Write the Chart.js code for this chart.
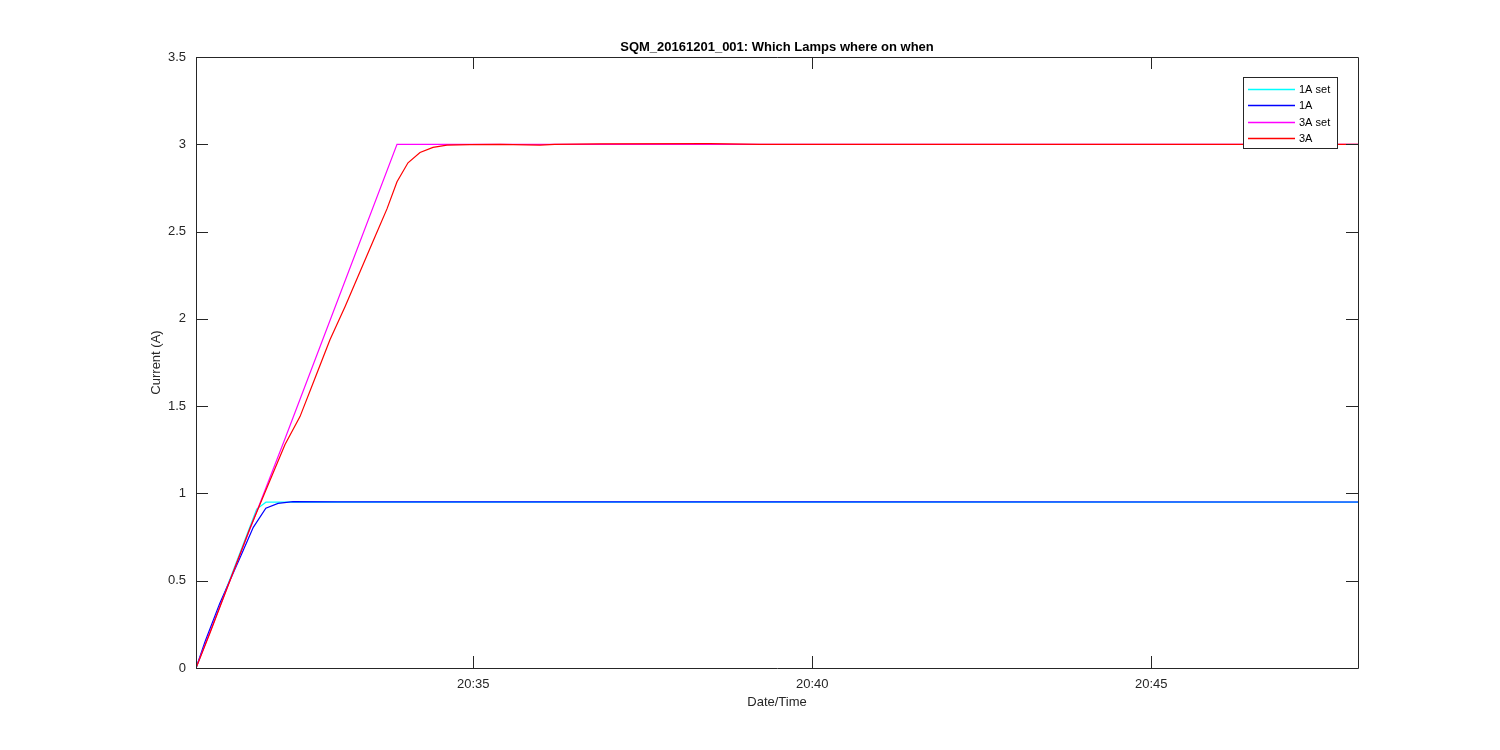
<!DOCTYPE html>
<html>
<head>
<meta charset="utf-8">
<script src="https://cdn.jsdelivr.net/npm/chart.js@4.4.1/dist/chart.umd.min.js"></script>
<style>
  html, body { margin: 0; padding: 0; background: #fff; }
  #wrap { width: 1500px; height: 750px; }
</style>
</head>
<body>
<div id="wrap"><canvas id="c" width="1500" height="750"></canvas></div>
<script>
// Time axis values are minutes after 20:00
const chartTitle = 'SQM_20161201_001: Which Lamps where on when';
const xLabel = 'Date/Time';
const yLabel = 'Current (A)';
const xMin = 30.91, xMax = 48.05;
const xTickValues = [35, 40, 45];
const yTickValues = [0, 0.5, 1, 1.5, 2, 2.5, 3, 3.5];

const seriesNames = ['1A set', '1A', '3A set', '3A'];
const seriesColors = ['#00FFFF', '#0000FF', '#FF00FF', '#FF0000'];

const set1A_t = [30.91, 31.805, 31.942, 48.05];
const set1A_v = [0, 0.91, 0.95, 0.95];

const meas1A_t = [30.91, 31.043, 31.26, 31.58, 31.755, 31.94, 32.12, 32.34, 33.0, 40.0, 48.05];
const meas1A_v = [0, 0.15, 0.37, 0.65, 0.806, 0.915, 0.943, 0.953, 0.952, 0.952, 0.951];

const set3A_t = [30.91, 32.22, 33.875, 48.05];
const set3A_v = [0, 1.31, 3.0, 3.0];

const meas3A_t = [30.91, 31.116, 31.41, 31.706, 31.942, 32.223, 32.444, 32.665, 32.886, 33.108, 33.329, 33.55, 33.727, 33.875, 34.037, 34.214, 34.406, 34.612, 34.951, 35.394, 35.984, 36.2, 36.869, 38.49, 39.23, 48.05];
const meas3A_v = [0, 0.2, 0.5, 0.8, 1.02, 1.28, 1.44, 1.66, 1.88, 2.07, 2.27, 2.47, 2.63, 2.785, 2.894, 2.953, 2.982, 2.995, 2.998, 3.0, 2.995, 3.0, 3.002, 3.004, 3.0, 3.0];

function pts(t, v) { return t.map((x, i) => ({ x: x, y: v[i] })); }
const seriesT = [set1A_t, meas1A_t, set3A_t, meas3A_t];
const seriesV = [set1A_v, meas1A_v, set3A_v, meas3A_v];
const drawOrder = [3, 2, 1, 0];

function fmtTime(m) {
  const h = 20 + Math.floor(m / 60);
  const mm = Math.round(m % 60);
  return h + ':' + (mm < 10 ? '0' : '') + mm;
}

const FONT = "'Liberation Sans', Arial, Helvetica, sans-serif";
const AXC = '#262626';

const boxTicks = {
  id: 'boxTicks',
  afterDraw(chart) {
    const { ctx, chartArea: a } = chart;
    const xs = chart.scales.x, ys = chart.scales.y;
    const L = 12;
    ctx.save();
    ctx.strokeStyle = AXC;
    ctx.lineWidth = 1;
    ctx.beginPath();
    ctx.rect(Math.round(a.left) + 0.5, Math.round(a.top) + 0.5, Math.round(a.right - a.left), Math.round(a.bottom - a.top));
    xTickValues.forEach(v => {
      const px = Math.round(xs.getPixelForValue(v)) + 0.5;
      ctx.moveTo(px, a.bottom); ctx.lineTo(px, a.bottom - L);
      ctx.moveTo(px, a.top); ctx.lineTo(px, a.top + L);
    });
    yTickValues.forEach(v => {
      const py = Math.round(ys.getPixelForValue(v)) + 0.5;
      ctx.moveTo(a.left, py); ctx.lineTo(a.left + L, py);
      ctx.moveTo(a.right, py); ctx.lineTo(a.right - L, py);
    });
    ctx.stroke();

    // legend box inside plot (top right)
    const bx = 1243, by = 77, bw = 94, bh = 71;
    ctx.fillStyle = '#fff';
    ctx.fillRect(bx, by, bw, bh);
    ctx.strokeStyle = AXC;
    ctx.strokeRect(bx + 0.5, by + 0.5, bw, bh);
    ctx.font = '11px ' + FONT;
    ctx.textBaseline = 'middle';
    ctx.textAlign = 'left';
    const rows = [89, 104.5, 121.5, 138];
    chart.data.datasets.forEach((ds, i) => {
      const y = Math.round(rows[i]) + 0.5;
      ctx.strokeStyle = seriesColors[i];
      ctx.lineWidth = 1.3;
      ctx.beginPath();
      ctx.moveTo(1248, y); ctx.lineTo(1295, y);
      ctx.stroke();
      ctx.fillStyle = '#000';
      ctx.fillText(ds.label, 1299, y);
    });
    ctx.restore();
  }
};

new Chart(document.getElementById('c'), {
  type: 'line',
  data: {
    datasets: seriesNames.map((n, i) => ({
      label: n,
      data: pts(seriesT[i], seriesV[i]),
      borderColor: seriesColors[i],
      backgroundColor: seriesColors[i],
      borderWidth: 1.2,
      pointRadius: 0,
      tension: 0,
      fill: false,
      order: drawOrder[i]
    }))
  },
  options: {
    responsive: false,
    animation: false,
    devicePixelRatio: 1,
    layout: { padding: { left: 0, right: 142, top: 30, bottom: 0 } },
    plugins: {
      legend: { display: false },
      tooltip: { enabled: false },
      title: {
        display: true,
        fullSize: false,
        text: chartTitle,
        color: '#000',
        font: { family: FONT, size: 13, weight: 'bold', lineHeight: 1.2 },
        padding: { top: 9.4, bottom: 2 }
      }
    },
    scales: {
      x: {
        type: 'linear',
        min: xMin, max: xMax,
        afterBuildTicks: (s) => { s.ticks = xTickValues.map(v => ({ value: v })); },
        afterFit: (s) => { s.height = 82; },
        grid: { display: false, drawTicks: false },
        border: { display: false },
        ticks: {
          color: AXC, padding: 9, maxRotation: 0, autoSkip: false,
          font: { family: FONT, size: 13 },
          callback: (v) => fmtTime(v)
        },
        title: {
          display: true, text: xLabel, color: AXC,
          font: { family: FONT, size: 13, lineHeight: 1.2 },
          padding: { top: 0, bottom: 40 }
        }
      },
      y: {
        type: 'linear',
        min: 0, max: 3.5,
        afterBuildTicks: (s) => { s.ticks = yTickValues.map(v => ({ value: v })); },
        afterFit: (s) => { s.width = 196; },
        grid: { display: false, drawTicks: false },
        border: { display: false },
        ticks: {
          color: AXC, padding: 10,
          font: { family: FONT, size: 13 },
          callback: (v) => String(v)
        },
        title: {
          display: true, text: yLabel, color: AXC,
          font: { family: FONT, size: 13, lineHeight: 1.2 },
          padding: { top: 149, bottom: 0 }
        }
      }
    }
  },
  plugins: [boxTicks]
});
</script>
</body>
</html>
